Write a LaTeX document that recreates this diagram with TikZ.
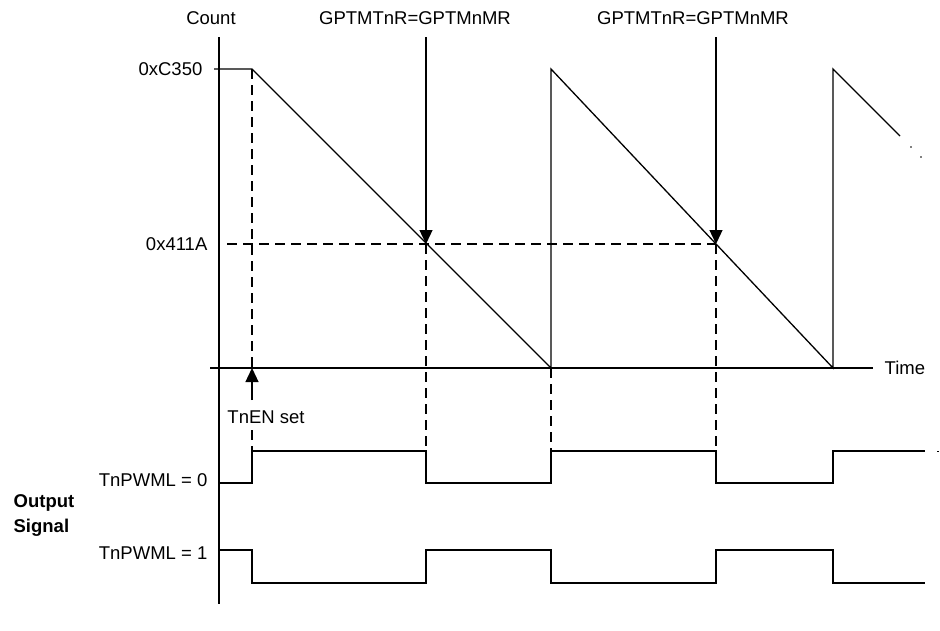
\documentclass[tikz,border=0pt]{standalone}
\usepackage{fontspec}
\setmainfont{Liberation Sans}
\usetikzlibrary{arrows.meta}
\begin{document}
\begin{tikzpicture}[>={Triangle[width=13pt,length=14pt]},x=1pt,y=-1pt,line width=1.3pt,
	every node/.style={font=\fontsize{18.5}{22}\selectfont,inner sep=0pt},
	gach/.style={line width=1.2pt,dash pattern=on 10pt off 6pt}]
	\useasboundingbox (0,0) rectangle (940,630);
	\def\yC{69} % mức 0xC350
	\def\yM{244} % mức 0x411A
	\def\yO{368} % trục thời gian
	\def\yH{451} \def\yL{483} % TnPWML = 0
	\def\yP{550} \def\yQ{583} % TnPWML = 1
	\coordinate (T) at (219,37); \coordinate (D) at (219,604); % trục Count
	\coordinate (E) at (252,\yC); % TnEN set
	\coordinate (Z1) at (551,\yO); \coordinate (Z2) at (833,\yO); % về 0
	\coordinate (M1) at (426,\yM); \coordinate (M2) at (716,\yM); % GPTMTnR=GPTMnMR
	\draw (T) -- (D);
	\draw (210,\yO) -- (873,\yO) node[right=11pt] (time) {Time};
	\node (count) at (211,18) {Count};
	\node[anchor=east] (c350) at (203,\yC) {0xC350};
	\node[anchor=east] (m411) at (208,\yM) {0x411A};
	% đường đếm xuống
	\draw (214,\yC) -- (E) -- (Z1) -- (551,\yC) -- (Z2) -- (833,\yC) -- (900,136);
	\fill (911,147) circle (0.9pt) (921,157) circle (0.9pt);
	\draw[gach] (E) -- (252,\yO);
	\draw[gach] (227,\yM) -- (M2);
	\draw[gach] (M1) -- (426,\yH);
	\draw[gach] (Z1) -- (551,\yH);
	\draw[gach] (M2) -- (716,\yH);
	\draw[gach] (252,430) -- (252,\yH);
	% mũi tên
	\node (lab1) at (415,18) {GPTMTnR=GPTMnMR};
	\node (lab2) at (693,18) {GPTMTnR=GPTMnMR};
	\draw[->] (426,37) -- (M1);
	\draw[->] (716,37) -- (M2);
	\draw[->] (252,400) -- (252,\yO);
	\node (en) at (266,417) {TnEN set};
	% tín hiệu ra
	\node[anchor=east] (pw0) at (208,480) {TnPWML = 0};
	\node[anchor=east] (pw1) at (208,553) {TnPWML = 1};
	\node[anchor=west,align=left,font=\fontsize{18.5}{25}\selectfont\bfseries] (out) at (13,515) {Output\\Signal};
	\draw (219,\yL) -- (252,\yL) -- (252,\yH) -- (426,\yH) -- (426,\yL) -- (551,\yL) -- (551,\yH)
		-- (716,\yH) -- (716,\yL) -- (833,\yL) -- (833,\yH) -- (925,\yH);
	\draw (219,\yP) -- (252,\yP) -- (252,\yQ) -- (426,\yQ) -- (426,\yP) -- (551,\yP) -- (551,\yQ)
		-- (716,\yQ) -- (716,\yP) -- (833,\yP) -- (833,\yQ) -- (925,\yQ);
	\draw[line width=0.8pt] (937,\yH) -- (939,\yH);
\end{tikzpicture}
\end{document}
